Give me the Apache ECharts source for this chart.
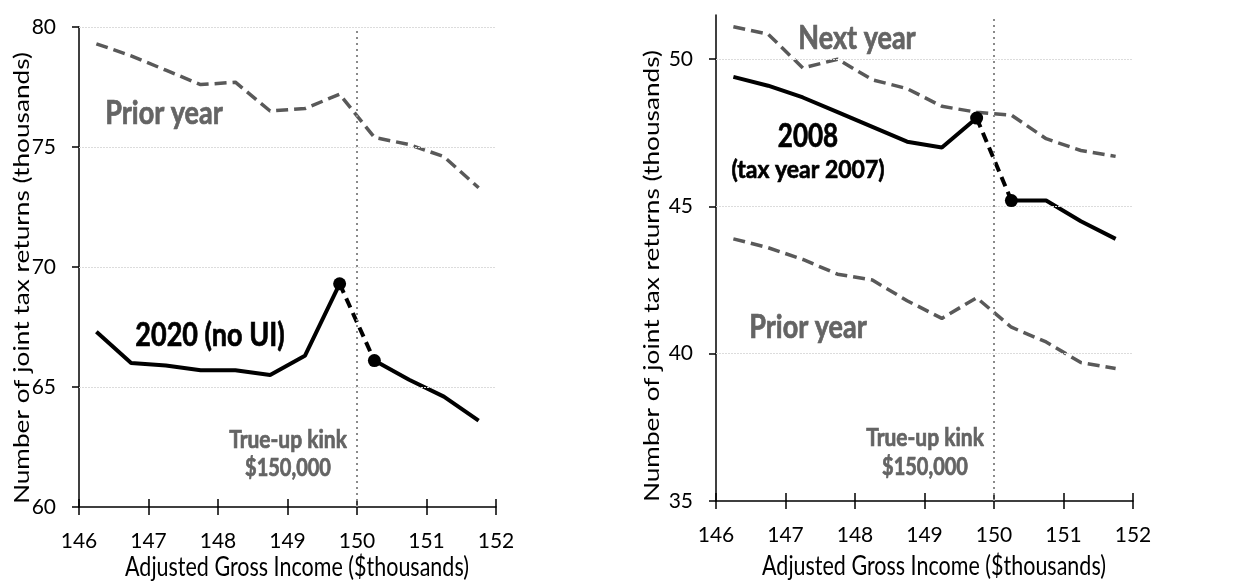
<!DOCTYPE html>
<html>
<head>
<meta charset="utf-8">
<script src="https://cdn.jsdelivr.net/npm/echarts@6/dist/echarts.min.js"></script>
<style>
  html, body { margin: 0; padding: 0; background: #fff; }
  #chart { width: 1255px; height: 582px; }
</style>
</head>
<body>
<div id="chart"></div>
<script>
// Adjusted gross income bin midpoints ($ thousands)
const agi = [146.25, 146.75, 147.25, 147.75, 148.25, 148.75, 149.25, 149.75, 150.25, 150.75, 151.25, 151.75];

// Left panel: joint returns (thousands)
const priorYearLeft = [79.3, 78.8, 78.2, 77.6, 77.7, 76.5, 76.6, 77.2, 75.4, 75.1, 74.6, 73.3];
const y2020 = [67.3, 66.0, 65.9, 65.7, 65.7, 65.5, 66.3, 69.3, 66.1, 65.3, 64.6, 63.6];

// Right panel: joint returns (thousands)
const nextYearRight = [51.1, 50.85, 49.7, 50.0, 49.3, 49.0, 48.4, 48.2, 48.1, 47.3, 46.9, 46.7];
const y2008 = [49.4, 49.1, 48.7, 48.2, 47.7, 47.2, 47.0, 48.0, 45.2, 45.2, 44.5, 43.9];
const priorYearRight = [43.9, 43.6, 43.2, 42.7, 42.5, 41.8, 41.2, 41.9, 40.9, 40.4, 39.7, 39.5];

// Axis ticks
const xTicks = [146, 147, 148, 149, 150, 151, 152];
const yTicksLeft = [60, 65, 70, 75, 80];
const yTicksRight = [35, 40, 45, 50];
const kinkAgi = 150;

const FONT = "Lato, 'Open Sans', 'Liberation Sans', sans-serif";
const GRAY = '#595959';
const LABEL_GRAY = '#646464';
const STRETCH = 1.22;   // tall, narrow lettering

const pts = (ys, from, to) => agi.slice(from, to).map((x, i) => [x, ys[from + i]]);
const all = ys => pts(ys, 0, agi.length);

function xAxes(gridIndex) {
  const base = {
    type: 'value', gridIndex, min: xTicks[0], max: xTicks[xTicks.length - 1], interval: 1,
    splitLine: { show: false },
  };
  return [
    Object.assign({}, base, {
      axisLine: { show: true, onZero: false, lineStyle: { color: '#000', width: 1.5 } },
      axisTick: { show: true, inside: false, length: 8, lineStyle: { color: '#000', width: 1.5 } },
      axisLabel: { show: true, color: '#000', fontFamily: FONT, fontSize: 21, margin: 24 },
    }),
    Object.assign({}, base, {
      position: 'bottom',
      axisLine: { show: false },
      axisTick: { show: true, inside: true, length: 8, lineStyle: { color: '#000', width: 1.5 } },
      axisLabel: { show: false },
    }),
  ];
}

function yAxis(gridIndex, min, max, ticks) {
  return {
    type: 'value', gridIndex, min, max, interval: 5,
    splitLine: { show: false },
    axisLine: { show: true, lineStyle: { color: '#000', width: 1.5 } },
    axisTick: { show: true, length: 7, customValues: ticks, lineStyle: { color: '#000', width: 1.5 } },
    axisLabel: { color: '#000', fontFamily: FONT, fontSize: 21, margin: 23, customValues: ticks },
  };
}

function gridLines(ticks) {
  return {
    silent: true, symbol: 'none', label: { show: false },
    lineStyle: { color: '#dcdcdc', width: 1, type: [2, 1] },
    data: ticks.map(v => ({ yAxis: v })).concat([
      { xAxis: kinkAgi, lineStyle: { color: '#8a8a8a', width: 2, type: [2, 4] } }
    ]),
  };
}

const dashed = (name, ys, xi, yi) => ({
  name, type: 'line', xAxisIndex: xi, yAxisIndex: yi, data: all(ys),
  symbol: 'none', lineStyle: { color: GRAY, width: 3.5, type: [12, 6] }, z: 3,
});

const solid = (data, xi, yi, type) => ({
  type: 'line', xAxisIndex: xi, yAxisIndex: yi, data,
  symbol: 'none', lineStyle: { color: '#000', width: 4, type: type || 'solid' }, z: 4,
});

const dots = (ys, xi, yi) => ({
  type: 'scatter', xAxisIndex: xi, yAxisIndex: yi, data: pts(ys, 7, 9),
  symbolSize: 13, itemStyle: { color: '#000', opacity: 1 }, z: 5,
});

const txt = (x, y, text, size, color, sy) => ({
  type: 'text', x, y, z: 10, scaleY: sy || STRETCH,
  style: {
    text, fontFamily: FONT, fontSize: size, fontWeight: 'bold', fill: color,
    stroke: color, lineWidth: 0.6,
    align: 'center', verticalAlign: 'middle',
  },
});

const axisTitle = (x, y, text, vertical) => ({
  type: 'text', x, y, z: 10,
  rotation: vertical ? Math.PI / 2 : 0,
  scaleX: vertical ? STRETCH : 1,
  scaleY: vertical ? 1 : STRETCH,
  style: { text, fontFamily: FONT, fontSize: 21.5, fill: '#000', align: 'center', verticalAlign: 'middle' },
});

const chart = echarts.init(document.getElementById('chart'), null, { renderer: 'canvas' });
chart.setOption({
  animation: false,
  backgroundColor: '#fff',
  grid: [
    { left: 79, top: 27, width: 417, height: 480 },
    { left: 716, top: 15, width: 417, height: 486 },
  ],
  xAxis: [...xAxes(0), ...xAxes(1)],
  yAxis: [yAxis(0, 60, 80, yTicksLeft), yAxis(1, 35, 51.5, yTicksRight)],
  series: [
    Object.assign(dashed('Prior year', priorYearLeft, 0, 0), { markLine: gridLines(yTicksLeft.slice(1)) }),
    solid(pts(y2020, 0, 8), 0, 0),
    solid(pts(y2020, 7, 9), 0, 0, [10, 6]),
    solid(pts(y2020, 8, 12), 0, 0),
    dots(y2020, 0, 0),

    Object.assign(dashed('Next year', nextYearRight, 2, 1), { markLine: gridLines(yTicksRight.slice(1)) }),
    dashed('Prior year', priorYearRight, 2, 1),
    solid(pts(y2008, 0, 8), 2, 1),
    solid(pts(y2008, 7, 9), 2, 1, [10, 6]),
    solid(pts(y2008, 8, 12), 2, 1),
    dots(y2008, 2, 1),
  ],
  graphic: [
    txt(164, 113, 'Prior year', 27, LABEL_GRAY),
    txt(210, 335, '2020 (no UI)', 27, '#000'),
    txt(288, 440, 'True-up kink', 21, LABEL_GRAY),
    txt(288, 468, '$150,000', 20, LABEL_GRAY),

    txt(857, 38, 'Next year', 27, LABEL_GRAY),
    txt(808, 137, '2008', 26, '#000'),
    txt(808, 170, '(tax year 2007)', 23, '#000', 1.1),
    txt(808, 327, 'Prior year', 27, LABEL_GRAY),
    txt(925, 438, 'True-up kink', 21, LABEL_GRAY),
    txt(925, 467, '$150,000', 20, LABEL_GRAY),

    axisTitle(22, 278, 'Number of joint tax returns (thousands)', true),
    axisTitle(652, 276, 'Number of joint tax returns (thousands)', true),
    axisTitle(297, 568, 'Adjusted Gross Income ($thousands)', false),
    axisTitle(934, 567, 'Adjusted Gross Income ($thousands)', false),
  ],
});
</script>
</body>
</html>
